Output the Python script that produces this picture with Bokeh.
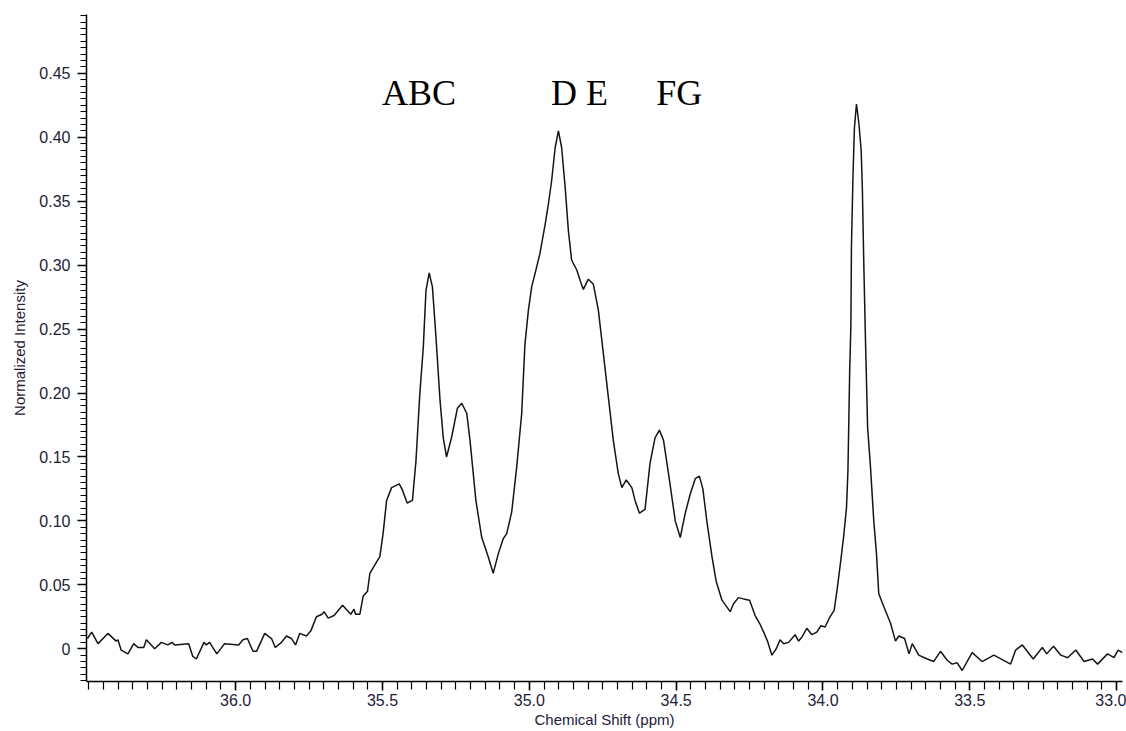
import numpy as np
from bokeh.plotting import figure
from bokeh.models import Range1d, FixedTicker, CustomJSTickFormatter, ColumnDataSource
from bokeh.core.properties import value
from bokeh.embed import file_html
from bokeh.resources import INLINE

# ---- data ----
shift_ppm = [
    36.505, 36.490, 36.469, 36.435, 36.407, 36.401, 36.390, 36.367, 36.347, 36.333,
    36.313, 36.304, 36.276, 36.253, 36.231, 36.217, 36.208, 36.160, 36.146, 36.134,
    36.108, 36.100, 36.089, 36.064, 36.038, 35.990, 35.975, 35.960, 35.941, 35.929,
    35.901, 35.878, 35.865, 35.844, 35.827, 35.810, 35.796, 35.782, 35.759, 35.744,
    35.725, 35.706, 35.699, 35.685, 35.665, 35.636, 35.608, 35.597, 35.592, 35.577,
    35.566, 35.551, 35.543, 35.520, 35.509, 35.498, 35.486, 35.469, 35.443, 35.432,
    35.416, 35.398, 35.386, 35.373, 35.361, 35.352, 35.341, 35.330, 35.318, 35.304,
    35.293, 35.282, 35.265, 35.245, 35.230, 35.213, 35.202, 35.182, 35.162, 35.140,
    35.123, 35.106, 35.089, 35.077, 35.060, 35.043, 35.026, 35.015, 35.003, 34.992,
    34.981, 34.964, 34.946, 34.935, 34.924, 34.912, 34.901, 34.890, 34.878, 34.867,
    34.856, 34.838, 34.827, 34.816, 34.799, 34.782, 34.765, 34.748, 34.731, 34.714,
    34.697, 34.685, 34.670, 34.651, 34.640, 34.625, 34.606, 34.589, 34.572, 34.557,
    34.543, 34.526, 34.503, 34.486, 34.469, 34.452, 34.435, 34.421, 34.409, 34.395,
    34.378, 34.364, 34.344, 34.316, 34.305, 34.288, 34.271, 34.250, 34.231, 34.214,
    34.200, 34.189, 34.174, 34.159, 34.146, 34.134, 34.117, 34.095, 34.083, 34.072,
    34.055, 34.038, 34.021, 34.007, 33.993, 33.976, 33.962, 33.952, 33.941, 33.930,
    33.920, 33.915, 33.912, 33.909, 33.905, 33.903, 33.898, 33.893, 33.886, 33.882,
    33.877, 33.870, 33.866, 33.861, 33.855, 33.848, 33.839, 33.827, 33.818, 33.810,
    33.793, 33.770, 33.753, 33.742, 33.722, 33.707, 33.696, 33.674, 33.645, 33.623,
    33.600, 33.577, 33.560, 33.543, 33.526, 33.492, 33.458, 33.418, 33.361, 33.344,
    33.321, 33.284, 33.253, 33.238, 33.215, 33.190, 33.167, 33.139, 33.111, 33.082,
    33.065, 33.031, 33.009, 32.995, 32.980,
]
intensity = [
    0.008, 0.013, 0.004, 0.012, 0.006, 0.007, -0.001, -0.004, 0.004, 0.001,
    0.001, 0.007, 0.000, 0.005, 0.003, 0.005, 0.003, 0.004, -0.006, -0.008,
    0.005, 0.003, 0.005, -0.004, 0.004, 0.003, 0.007, 0.008, -0.002, -0.002,
    0.012, 0.008, 0.001, 0.005, 0.010, 0.008, 0.003, 0.012, 0.010, 0.014,
    0.025, 0.027, 0.029, 0.024, 0.026, 0.034, 0.027, 0.031, 0.027, 0.027,
    0.041, 0.045, 0.059, 0.068, 0.072, 0.090, 0.116, 0.126, 0.129, 0.124,
    0.114, 0.116, 0.147, 0.199, 0.236, 0.280, 0.294, 0.283, 0.244, 0.194,
    0.165, 0.150, 0.165, 0.188, 0.192, 0.184, 0.163, 0.116, 0.087, 0.072,
    0.059, 0.074, 0.086, 0.090, 0.107, 0.142, 0.184, 0.238, 0.265, 0.283,
    0.293, 0.309, 0.332, 0.348, 0.366, 0.392, 0.405, 0.392, 0.361, 0.327,
    0.304, 0.296, 0.288, 0.281, 0.289, 0.285, 0.265, 0.231, 0.197, 0.163,
    0.137, 0.126, 0.132, 0.126, 0.116, 0.106, 0.109, 0.145, 0.165, 0.171,
    0.163, 0.137, 0.100, 0.087, 0.106, 0.121, 0.133, 0.135, 0.125, 0.099,
    0.072, 0.053, 0.038, 0.029, 0.035, 0.040, 0.039, 0.038, 0.026, 0.019,
    0.012, 0.006, -0.005, 0.000, 0.007, 0.004, 0.005, 0.011, 0.006, 0.009,
    0.016, 0.011, 0.013, 0.018, 0.017, 0.025, 0.030, 0.046, 0.066, 0.087,
    0.110, 0.139, 0.178, 0.218, 0.252, 0.315, 0.368, 0.407, 0.426, 0.419,
    0.409, 0.390, 0.361, 0.301, 0.239, 0.173, 0.145, 0.100, 0.075, 0.043,
    0.033, 0.020, 0.006, 0.010, 0.008, -0.004, 0.004, -0.005, -0.008, -0.010,
    -0.002, -0.009, -0.012, -0.011, -0.017, -0.003, -0.010, -0.005, -0.012, -0.001,
    0.003, -0.008, 0.001, -0.004, 0.002, -0.005, -0.007, -0.001, -0.010, -0.008,
    -0.012, -0.004, -0.007, -0.001, -0.003,
]
peak_labels = ["ABC", "D E", "FG"]
x_major_ticks = [36.0, 35.5, 35.0, 34.5, 34.0, 33.5, 33.0]
y_major_ticks = [0.0, 0.05, 0.10, 0.15, 0.20, 0.25, 0.30, 0.35, 0.40, 0.45]

# ---- layout constants ----
label_x = [35.502, 34.926, 34.568]
label_y = [0.435, 0.435, 0.435]

W, H = 1126, 731
p = figure(width=W, height=H, output_backend="svg", toolbar_location=None,
           x_range=Range1d(36.508, 32.98), y_range=Range1d(-0.0256, 0.496),
           min_border_left=86, min_border_right=4, min_border_top=14, min_border_bottom=50)
p.background_fill_color = "white"
p.border_fill_color = "white"
p.outline_line_color = None
p.xgrid.visible = False
p.ygrid.visible = False

src = ColumnDataSource(dict(x=shift_ppm, y=intensity))
p.line("x", "y", source=src, line_color="#151515", line_width=1.5)

p.text(x=label_x, y=label_y, text=peak_labels, text_font=value("Liberation Serif"),
       text_font_size="36px", text_color="black", text_align="left",
       text_baseline="alphabetic")

x_minor = [round(v, 3) for v in np.arange(36.5, 32.97, -0.05)]
y_minor = [round(v, 4) for v in np.arange(-0.025, 0.4951, 0.005)]
p.xaxis.ticker = FixedTicker(ticks=x_major_ticks, minor_ticks=x_minor)
p.yaxis.ticker = FixedTicker(ticks=y_major_ticks, minor_ticks=y_minor)
p.xaxis.formatter = CustomJSTickFormatter(code="return tick.toFixed(1);")
p.yaxis.formatter = CustomJSTickFormatter(code="return Math.abs(tick) < 1e-9 ? '0' : tick.toFixed(2);")

p.xaxis.axis_label = "Chemical Shift (ppm)"
p.yaxis.axis_label = "Normalized Intensity"
for ax in (p.xaxis, p.yaxis):
    ax.axis_line_color = "black"
    ax.axis_line_width = 1.5
    ax.major_tick_line_color = "black"
    ax.minor_tick_line_color = "black"
    ax.major_tick_line_width = 1.5
    ax.minor_tick_line_width = 1.2
    ax.major_tick_out = 9
    ax.major_tick_in = 0
    ax.minor_tick_out = 6
    ax.minor_tick_in = 0
    ax.major_label_text_font = "Liberation Sans"
    ax.major_label_text_font_size = "16px"
    ax.major_label_text_color = "#1e2238"
    ax.axis_label_text_font = "Liberation Sans"
    ax.axis_label_text_font_size = "15px"
    ax.axis_label_text_font_style = "normal"
    ax.axis_label_text_color = "#1e2238"
p.xaxis.major_label_standoff = 3
p.xaxis.axis_label_standoff = 2
p.yaxis.major_label_standoff = 7
p.yaxis.axis_label_standoff = 8
p.xaxis.minor_tick_out = 8

open("out.html", "w").write(file_html(p, INLINE))
